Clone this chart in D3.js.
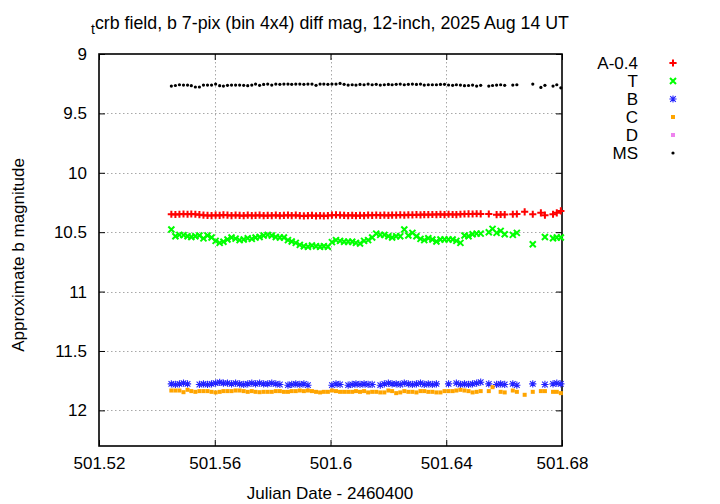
<!DOCTYPE html>
<html>
<head>
<meta charset="utf-8">
<script src="https://cdn.jsdelivr.net/npm/d3@7/dist/d3.min.js"></script>
<style>
  html, body { margin: 0; padding: 0; background: #fff; }
  svg { display: block; font-family: "Liberation Sans", Arial, Helvetica, sans-serif; }
</style>
</head>
<body>
<svg id="chart" width="720" height="504"></svg>
<script>
// ---------------- data ----------------
const jd = [
  501.5450, 501.5464, 501.5478, 501.5492, 501.5506, 501.5519, 501.5533, 501.5547, 501.5561, 501.5575,
  501.5589, 501.5603, 501.5617, 501.5630, 501.5644, 501.5658, 501.5672, 501.5686, 501.5700, 501.5714,
  501.5728, 501.5741, 501.5755, 501.5769, 501.5783, 501.5797, 501.5811, 501.5825, 501.5839, 501.5853,
  501.5866, 501.5880, 501.5894, 501.5908, 501.5922, 501.5936, 501.5950, 501.5964, 501.5977, 501.5991,
  501.6005, 501.6019, 501.6033, 501.6047, 501.6061, 501.6075, 501.6088, 501.6102, 501.6116, 501.6130,
  501.6144, 501.6158, 501.6172, 501.6186, 501.6200, 501.6213, 501.6227, 501.6241, 501.6255, 501.6269,
  501.6283, 501.6297, 501.6311, 501.6324, 501.6338, 501.6352, 501.6366, 501.6380, 501.6394, 501.6408,
  501.6422, 501.6435, 501.6449, 501.6463, 501.6477, 501.6491, 501.6505, 501.6519, 501.6533, 501.6547,
  501.6560, 501.6574, 501.6588, 501.6602, 501.6616, 501.6630, 501.6644, 501.6658, 501.6671, 501.6685,
  501.6699, 501.6713, 501.6727, 501.6741, 501.6755, 501.6769, 501.6782, 501.6796
];
const magA = [
  10.349, 10.351, 10.349, 10.347, 10.349, 10.347, 10.349, 10.353, 10.357, 10.359,
  10.360, 10.357, 10.359, 10.355, 10.357, 10.360, 10.357, 10.359, 10.361, 10.357,
  10.360, 10.359, 10.357, 10.361, 10.359, 10.360, 10.357, 10.361, 10.359, 10.357,
  10.360, 10.357, 10.361, 10.363, 10.360, 10.359, 10.362, 10.360, 10.363, 10.360,
  10.357, 10.355, 10.357, 10.359, 10.360, 10.358, 10.361, 10.359, 10.360, 10.357,
  10.358, 10.356, 10.358, 10.357, 10.359, 10.356, 10.357, 10.355, 10.357, 10.354,
  10.355, 10.353, 10.354, 10.352, 10.353, 10.351, 10.352, 10.350, 10.353, 10.349,
  10.351, 10.352, 10.349, 10.347, 10.346, 10.347, 10.345, 10.346, null, 10.347,
  null, 10.353, 10.351, 10.352, null, 10.349, 10.347, null, 10.329, null,
  10.349, null, 10.337, 10.357, null, 10.349, 10.337, 10.321
];
const magT = [
  10.477, 10.534, 10.523, 10.525, 10.534, 10.540, 10.534, 10.528, 10.552, 10.528,
  10.545, 10.573, 10.590, 10.581, 10.562, 10.545, 10.554, 10.567, 10.562, 10.551,
  10.556, 10.545, 10.540, 10.528, 10.523, 10.528, 10.540, 10.545, 10.545, 10.567,
  10.579, 10.590, 10.607, 10.618, 10.623, 10.612, 10.618, 10.623, 10.618, 10.623,
  10.584, 10.567, 10.573, 10.581, 10.581, 10.581, 10.590, 10.595, 10.573, 10.567,
  10.545, 10.512, 10.523, 10.523, 10.534, 10.545, 10.534, 10.534, 10.478, 10.528,
  10.506, 10.534, 10.556, 10.567, 10.551, 10.562, 10.579, 10.562, 10.562, 10.562,
  10.562, 10.573, 10.590, 10.528, 10.534, 10.517, 10.512, 10.512, null, 10.500,
  10.472, 10.506, 10.489, 10.517, null, 10.523, 10.506, null, null, null,
  10.601, null, null, 10.540, null, 10.551, 10.545, 10.545
];
const magB = [
  11.777, 11.782, 11.777, 11.771, 11.777, null, null, 11.782, 11.777, 11.782,
  11.777, 11.771, 11.765, 11.771, 11.771, 11.777, 11.771, 11.777, 11.782, 11.777,
  11.771, 11.777, 11.771, 11.777, 11.777, 11.771, 11.777, 11.782, null, 11.788,
  11.782, 11.777, 11.782, 11.777, 11.788, null, null, null, null, null,
  11.788, 11.777, 11.782, null, 11.788, 11.782, 11.777, 11.782, 11.777, 11.782,
  11.782, null, 11.788, 11.777, 11.771, 11.777, 11.777, 11.782, 11.771, 11.777,
  11.782, 11.777, 11.771, 11.782, 11.777, 11.782, 11.777, null, null, 11.777,
  null, 11.771, 11.782, 11.777, 11.782, 11.777, 11.771, 11.763, null, 11.777,
  null, 11.782, 11.777, 11.782, null, 11.777, 11.788, null, null, null,
  11.777, null, null, 11.782, null, 11.777, 11.771, 11.777
];
const magC = [
  11.833, 11.833, 11.833, 11.847, 11.827, 11.838, 11.844, 11.838, 11.838, 11.838,
  11.844, 11.849, 11.844, 11.838, 11.838, 11.838, 11.833, 11.833, 11.838, 11.844,
  11.838, 11.844, 11.847, 11.844, 11.844, 11.844, 11.838, 11.838, 11.844, 11.844,
  11.838, 11.838, 11.833, 11.838, 11.833, 11.838, 11.844, 11.849, 11.844, 11.844,
  11.833, 11.838, 11.844, 11.844, 11.844, 11.844, 11.838, 11.844, 11.838, 11.849,
  11.844, 11.844, 11.849, 11.849, 11.833, 11.838, 11.855, 11.849, 11.838, 11.844,
  11.844, 11.849, 11.838, 11.838, 11.844, 11.844, 11.849, 11.849, 11.838, 11.838,
  11.838, 11.833, 11.827, 11.833, 11.838, 11.849, 11.844, 11.838, null, 11.838,
  11.805, null, 11.844, 11.849, null, 11.833, 11.844, null, 11.869, null,
  11.844, null, 11.838, 11.838, null, 11.844, 11.844, 11.855
];
const magD = [];  // D: no points within the plotted range
const magMS = [
  9.270, 9.265, 9.259, 9.262, 9.262, 9.267, 9.278, 9.278, 9.262, 9.262,
  9.262, 9.253, 9.267, 9.270, 9.264, 9.262, 9.262, 9.262, 9.264, 9.267,
  9.262, 9.253, 9.264, 9.256, 9.253, 9.262, 9.253, 9.255, 9.253, 9.253,
  9.255, 9.253, 9.253, 9.255, 9.253, 9.253, 9.264, 9.253, 9.253, 9.255,
  9.253, 9.253, 9.248, 9.255, 9.262, 9.259, 9.262, 9.256, 9.259, 9.253,
  9.259, 9.255, 9.262, 9.259, 9.256, 9.259, 9.255, 9.253, 9.259, 9.255,
  9.253, 9.256, 9.253, 9.262, 9.259, 9.259, 9.259, 9.256, 9.255, 9.261,
  9.264, 9.259, 9.262, 9.267, 9.265, 9.262, 9.270, 9.264, null, 9.270,
  9.265, 9.262, 9.259, 9.264, null, 9.262, 9.259, null, null, null,
  9.253, null, 9.281, 9.264, null, 9.270, 9.259, 9.285
];
const seriesNames = ["A-0.4", "T", "B", "C", "D", "MS"];
const xTicks = [501.52, 501.56, 501.60, 501.64, 501.68];
const xTickLabels = ["501.52", "501.56", "501.6", "501.64", "501.68"];
const yTicks = [9, 9.5, 10, 10.5, 11, 11.5, 12];
const yTickLabels = ["9", "9.5", "10", "10.5", "11", "11.5", "12"];
const titleSub = "t";
const titleMain = "crb field, b 7-pix (bin 4x4) diff mag, 12-inch, 2025 Aug 14 UT";
const xTitle = "Julian Date - 2460400";
const yTitle = "Approximate b magnitude";

// ---------------- layout / style ----------------
const L = 99, R = 562, T = 54, B = 446;
const FS = 17;
const styles = [
  { color: "#ff0000", shape: "plus" },
  { color: "#00ff00", shape: "cross" },
  { color: "#2222ff", shape: "star" },
  { color: "#ffa500", shape: "square" },
  { color: "#ee82ee", shape: "square" },
  { color: "#000000", shape: "dot" }
];
const seriesVals = [magA, magT, magB, magC, magD, magMS];

const svg = d3.select("#chart");
const x = d3.scaleLinear().domain([501.52, 501.68]).range([L, R]);
const y = d3.scaleLinear().domain([9, 12.3]).range([T, B]);

// grid
const grid = svg.append("g").attr("stroke", "#a8a8a8").attr("stroke-width", 1)
  .attr("stroke-dasharray", "1.5,2.5");
grid.selectAll("line.gx").data(xTicks.slice(1, -1)).join("line")
  .attr("x1", d => Math.round(x(d)) + 0.5).attr("x2", d => Math.round(x(d)) + 0.5)
  .attr("y1", T).attr("y2", B);
grid.selectAll("line.gy").data(yTicks.slice(1)).join("line")
  .attr("y1", d => Math.round(y(d)) + 0.5).attr("y2", d => Math.round(y(d)) + 0.5)
  .attr("x1", L).attr("x2", R);

// axes
function styleAxis(g) {
  g.select(".domain").remove();
  g.selectAll(".tick line").attr("stroke", "#000").attr("stroke-width", 1);
  g.selectAll("text").attr("font-size", FS).attr("fill", "#000")
    .attr("font-family", "'Liberation Sans', Arial, sans-serif");
}
svg.append("g").attr("transform", `translate(0,${B})`)
  .call(d3.axisBottom(x).tickValues(xTicks).tickFormat((d, i) => xTickLabels[i])
    .tickSizeInner(-6).tickSizeOuter(0).tickPadding(11))
  .call(styleAxis);
svg.append("g").attr("transform", `translate(0,${T})`)
  .call(d3.axisTop(x).tickValues(xTicks).tickFormat("").tickSizeInner(-6).tickSizeOuter(0))
  .call(styleAxis);
svg.append("g").attr("transform", `translate(${L},0)`)
  .call(d3.axisLeft(y).tickValues(yTicks).tickFormat((d, i) => yTickLabels[i])
    .tickSizeInner(-6).tickSizeOuter(0).tickPadding(12))
  .call(styleAxis);
svg.append("g").attr("transform", `translate(${R},0)`)
  .call(d3.axisRight(y).tickValues(yTicks).tickFormat("").tickSizeInner(-6).tickSizeOuter(0))
  .call(styleAxis);

// frame
svg.append("rect").attr("x", L).attr("y", T).attr("width", R - L).attr("height", B - T)
  .attr("fill", "none").attr("stroke", "#000").attr("stroke-width", 1.6);

// markers
function drawMarker(g, shape, color) {
  if (shape === "plus") {
    g.append("path").attr("d", "M-3.6,0H3.6M0,-3.6V3.6")
      .attr("stroke", color).attr("stroke-width", 2).attr("fill", "none");
  } else if (shape === "cross") {
    g.append("path").attr("d", "M-3,-3L3,3M-3,3L3,-3")
      .attr("stroke", color).attr("stroke-width", 2).attr("fill", "none");
  } else if (shape === "star") {
    g.append("path").attr("d", "M-3.6,0H3.6M0,-3.6V3.6M-2.8,-2.8L2.8,2.8M-2.8,2.8L2.8,-2.8")
      .attr("stroke", color).attr("stroke-width", 1.1).attr("fill", "none");
  } else if (shape === "square") {
    g.append("rect").attr("x", -2).attr("y", -2).attr("width", 4).attr("height", 4)
      .attr("fill", color);
  } else if (shape === "dot") {
    g.append("circle").attr("r", 1.6).attr("fill", color);
  }
}

const plot = svg.append("g");
seriesVals.forEach((vals, si) => {
  const st = styles[si];
  const pts = vals.map((v, i) => ({ x: jd[i], v })).filter(p => p.v !== null && p.v !== undefined);
  const gs = plot.append("g").attr("class", "series-" + si);
  pts.forEach(p => {
    if (p.v < 9 || p.v > 12.3) return;
    const g = gs.append("g").attr("transform", `translate(${x(p.x)},${y(p.v)})`);
    drawMarker(g, st.shape, st.color);
  });
});

// legend
const legX = 638, legMX = 673, legY0 = 63, legDY = 18;
seriesNames.forEach((name, i) => {
  svg.append("text").attr("x", legX).attr("y", legY0 + i * legDY + 6)
    .attr("text-anchor", "end").attr("font-size", FS).text(name);
  const g = svg.append("g").attr("transform", `translate(${legMX},${legY0 + i * legDY})`);
  drawMarker(g, styles[i].shape, styles[i].color);
});

// titles
const tt = svg.append("text").attr("x", 330).attr("y", 29).attr("text-anchor", "middle")
  .attr("font-size", 17.8);
tt.append("tspan").attr("font-size", 14).attr("dy", 5).text(titleSub);
tt.append("tspan").attr("dy", -5).text(titleMain);

svg.append("text").attr("x", 330).attr("y", 499).attr("text-anchor", "middle")
  .attr("font-size", FS).text(xTitle);
svg.append("text").attr("transform", "translate(24,255) rotate(-90)")
  .attr("text-anchor", "middle").attr("font-size", FS).text(yTitle);
</script>
</body>
</html>
